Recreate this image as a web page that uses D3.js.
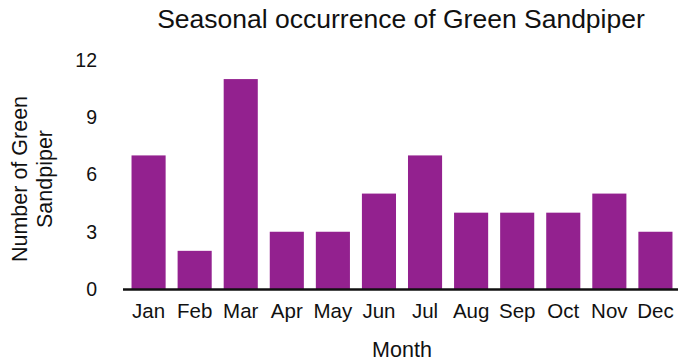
<!DOCTYPE html>
<html>
<head>
<meta charset="utf-8">
<script src="https://cdn.jsdelivr.net/npm/d3@7"></script>
<style>
  html, body { margin: 0; padding: 0; background: #fff; }
  text { font-family: "Liberation Sans", Arial, Helvetica, sans-serif; fill: #111; }
</style>
</head>
<body>
<svg id="chart" width="678" height="363"></svg>
<script>
// Monthly counts of Green Sandpiper
const months = ["Jan", "Feb", "Mar", "Apr", "May", "Jun", "Jul", "Aug", "Sep", "Oct", "Nov", "Dec"];
const counts = [7, 2, 11, 3, 3, 5, 7, 4, 4, 4, 5, 3];
const yTicks = [0, 3, 6, 9, 12];

const svg = d3.select("#chart");
const plotLeft = 123, plotRight = 678, plotTop = 60, plotBottom = 289;

const x = d3.scaleBand()
  .domain(months)
  .range([plotLeft + 3, plotRight])
  .paddingInner(0.26)
  .paddingOuter(0.12);

const y = d3.scaleLinear()
  .domain([0, 12])
  .range([plotBottom, plotTop]);

// Bars
svg.append("g")
  .selectAll("rect")
  .data(months.map((m, i) => ({ m, v: counts[i] })))
  .join("rect")
  .attr("x", d => x(d.m))
  .attr("y", d => y(d.v))
  .attr("width", x.bandwidth())
  .attr("height", d => y(0) - y(d.v))
  .attr("fill", "#93218f");

// Y axis: labels only
const yAxis = svg.append("g")
  .attr("transform", "translate(104,0)")
  .call(d3.axisLeft(y).tickValues(yTicks).tickSize(0).tickPadding(7));
yAxis.select(".domain").remove();
yAxis.selectAll("text").attr("font-size", 19.5).attr("fill", "#111");

// X axis: baseline and month labels
const xAxis = svg.append("g")
  .attr("transform", `translate(0,${plotBottom})`)
  .call(d3.axisBottom(x).tickSize(0).tickPadding(14));
xAxis.select(".domain").remove();
xAxis.selectAll("text").attr("font-size", 20.5).attr("fill", "#111");
svg.append("line")
  .attr("x1", plotLeft).attr("x2", plotRight)
  .attr("y1", plotBottom + 0.5).attr("y2", plotBottom + 0.5)
  .attr("stroke", "#111").attr("stroke-width", 2.5);

// Title
svg.append("text")
  .attr("x", 401).attr("y", 28)
  .attr("text-anchor", "middle")
  .attr("font-size", 26.5)
  .text("Seasonal occurrence of Green Sandpiper");

// Axis titles
svg.append("text")
  .attr("x", 402).attr("y", 357)
  .attr("text-anchor", "middle")
  .attr("font-size", 21.5)
  .text("Month");

const yl = svg.append("text")
  .attr("transform", "translate(0,179) rotate(-90)")
  .attr("text-anchor", "middle")
  .attr("font-size", 21.5);
yl.append("tspan").attr("x", 0).attr("y", 27).text("Number of Green");
yl.append("tspan").attr("x", 0).attr("y", 52).text("Sandpiper");
</script>
</body>
</html>
